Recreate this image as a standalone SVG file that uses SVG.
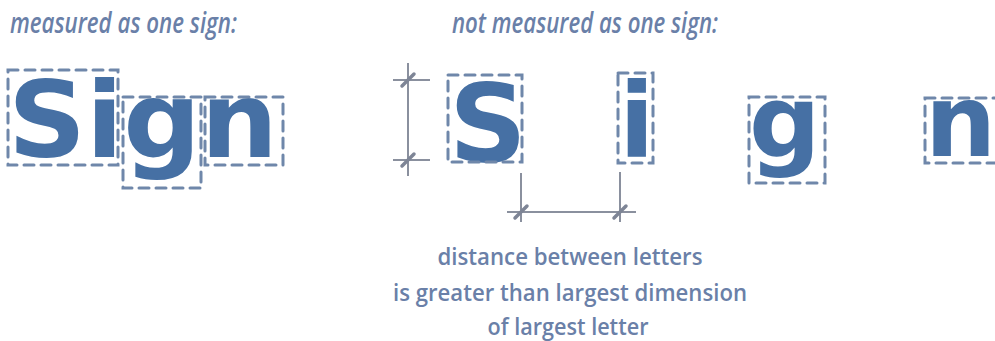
<svg xmlns="http://www.w3.org/2000/svg" width="995" height="341" viewBox="0 0 995 341">
<style>
.lbl{font-family:"Open Sans","Liberation Sans",sans-serif;font-style:italic;font-weight:600;font-size:29px;fill:#6a80a8}
.cap{font-family:"Open Sans","Liberation Sans",sans-serif;font-weight:600;font-size:24px;fill:#6a80a8;text-anchor:middle}
.big{font-family:"DejaVu Sans","Open Sans",sans-serif;font-weight:700;fill:#4670a4}
.box{fill:none;stroke:#6f87aa;stroke-width:3;stroke-dasharray:10 7;stroke-linecap:round}
.dim{stroke:#8a909e;stroke-width:2;fill:none}
.tick{stroke:#7e8596;stroke-width:3.5;stroke-linecap:round}
</style>
<rect width="995" height="341" fill="#fff"/>
<g id="labels">
<text class="lbl" x="10" y="33" textLength="227" lengthAdjust="spacingAndGlyphs">measured as one sign:</text>
<text class="lbl" x="452" y="33" textLength="266" lengthAdjust="spacingAndGlyphs">not measured as one sign:</text>
</g>
<g id="sign-whole">
<text class="big" x="8" y="157" font-size="106" textLength="270" lengthAdjust="spacingAndGlyphs">Sign</text>
<rect class="box" x="8" y="70" width="110" height="95"/>
<rect class="box" x="123" y="97" width="78" height="91"/>
<rect class="box" x="205" y="97" width="78" height="68"/>
</g>
<g id="letter-S">
<text class="big" x="449" y="161" font-size="108">S</text>
<rect class="box" x="448" y="75" width="74" height="87"/>
</g>
<g id="letter-i">
<text class="big" x="619" y="157" font-size="104">i</text>
<rect class="box" x="618" y="73" width="35" height="90"/>
</g>
<g id="letter-g">
<text class="big" x="749" y="156" font-size="100">g</text>
<rect class="box" x="749" y="97" width="76" height="86"/>
</g>
<g id="letter-n">
<text class="big" x="925" y="156" font-size="100">n</text>
<rect class="box" x="925" y="98" width="80" height="65"/>
</g>
<g id="connectors">
<line class="dim" x1="408" y1="63" x2="408" y2="176"/>
<line class="dim" x1="393" y1="80" x2="430" y2="80"/>
<line class="dim" x1="393" y1="160" x2="430" y2="160"/>
<line class="tick" x1="402" y1="86" x2="414" y2="74"/>
<line class="tick" x1="402" y1="166" x2="414" y2="154"/>
<line class="dim" x1="521" y1="173" x2="521" y2="222"/>
<line class="dim" x1="620" y1="172" x2="620" y2="222"/>
<line class="dim" x1="507" y1="212" x2="636" y2="212"/>
<line class="tick" x1="515" y1="218" x2="527" y2="206"/>
<line class="tick" x1="614" y1="218" x2="626" y2="206"/>
</g>
<g id="caption">
<text class="cap" x="570" y="265" textLength="265" lengthAdjust="spacingAndGlyphs">distance between letters</text>
<text class="cap" x="570" y="301" textLength="354" lengthAdjust="spacingAndGlyphs">is greater than largest dimension</text>
<text class="cap" x="568" y="335" textLength="161" lengthAdjust="spacingAndGlyphs">of largest letter</text>
</g>
</svg>
